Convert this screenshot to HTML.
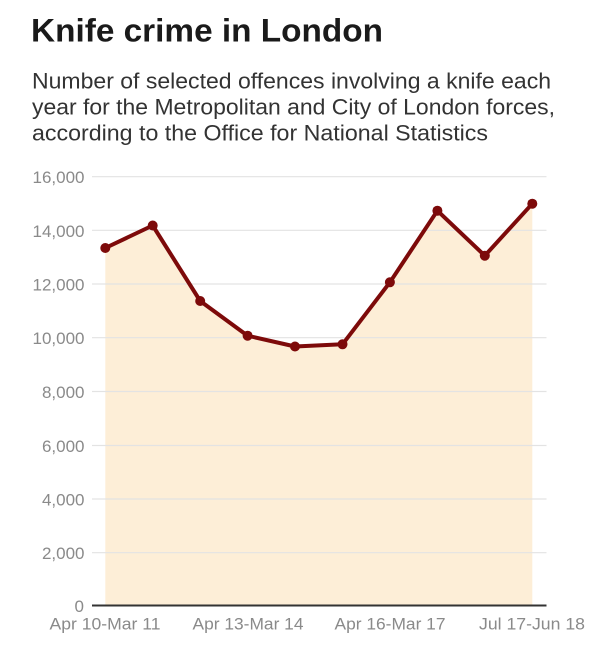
<!DOCTYPE html>
<html>
<head>
<meta charset="utf-8">
<style>
html,body{margin:0;padding:0;background:#fff;}
svg{display:block;}
text{font-family:"Liberation Sans",Arial,sans-serif;}
</style>
</head>
<body>
<svg width="616" height="652" viewBox="0 0 616 652" xmlns="http://www.w3.org/2000/svg">
  <rect width="616" height="652" fill="#fff"/>
  <text x="31" y="41.7" font-size="32" font-weight="bold" fill="#1a1a1a" textLength="352" lengthAdjust="spacingAndGlyphs">Knife crime in London</text>
  <text x="32" y="88.3" font-size="22" fill="#333" textLength="519" lengthAdjust="spacingAndGlyphs">Number of selected offences involving a knife each</text>
  <text x="32" y="114.3" font-size="22" fill="#333" textLength="523" lengthAdjust="spacingAndGlyphs">year for the Metropolitan and City of London forces,</text>
  <text x="32" y="140.3" font-size="22" fill="#333" textLength="456" lengthAdjust="spacingAndGlyphs">according to the Office for National Statistics</text>

  <!-- area fill -->
  <polygon fill="#fdeed7" points="105.3,605.5 105.3,248 152.7,225.5 200.2,301 247.6,335.7 295,346.5 342.5,344.3 389.9,282.3 437.4,210.7 484.8,255.7 532.3,203.7 532.3,605.5"/>

  <!-- gridlines -->
  <g stroke="#e3e3e3" stroke-width="1.2">
    <line x1="92" y1="176.7" x2="546.5" y2="176.7"/>
    <line x1="92" y1="230.3" x2="546.5" y2="230.3"/>
    <line x1="92" y1="284" x2="546.5" y2="284"/>
    <line x1="92" y1="337.7" x2="546.5" y2="337.7"/>
    <line x1="92" y1="391.5" x2="546.5" y2="391.5"/>
    <line x1="92" y1="445.5" x2="546.5" y2="445.5"/>
    <line x1="92" y1="499" x2="546.5" y2="499"/>
    <line x1="92" y1="552.7" x2="546.5" y2="552.7"/>
  </g>
  <line x1="92" y1="605.5" x2="546.5" y2="605.5" stroke="#333" stroke-width="2"/>

  <!-- y labels -->
  <g font-size="17" fill="#8a8a8a" text-anchor="end">
    <text x="84.5" y="183.2">16,000</text>
    <text x="84.5" y="236.8">14,000</text>
    <text x="84.5" y="290.5">12,000</text>
    <text x="84.5" y="344.2">10,000</text>
    <text x="84.5" y="398">8,000</text>
    <text x="84.5" y="452">6,000</text>
    <text x="84.5" y="505.5">4,000</text>
    <text x="84.5" y="559.2">2,000</text>
    <text x="84" y="611.8">0</text>
  </g>

  <!-- x labels -->
  <g font-size="17" fill="#8a8a8a" text-anchor="middle">
    <text x="105" y="629.3" textLength="111" lengthAdjust="spacingAndGlyphs">Apr 10-Mar 11</text>
    <text x="248" y="629.3" textLength="111" lengthAdjust="spacingAndGlyphs">Apr 13-Mar 14</text>
    <text x="390" y="629.3" textLength="111" lengthAdjust="spacingAndGlyphs">Apr 16-Mar 17</text>
    <text x="532" y="629.3" textLength="106" lengthAdjust="spacingAndGlyphs">Jul 17-Jun 18</text>
  </g>

  <!-- line -->
  <polyline fill="none" stroke="#7d0a0a" stroke-width="4" stroke-linejoin="round" stroke-linecap="round" points="105.3,248 152.7,225.5 200.2,301 247.6,335.7 295,346.5 342.5,344.3 389.9,282.3 437.4,210.7 484.8,255.7 532.3,203.7"/>
  <g fill="#7d0a0a">
    <circle cx="105.3" cy="248" r="5"/>
    <circle cx="152.7" cy="225.5" r="5"/>
    <circle cx="200.2" cy="301" r="5"/>
    <circle cx="247.6" cy="335.7" r="5"/>
    <circle cx="295" cy="346.5" r="5"/>
    <circle cx="342.5" cy="344.3" r="5"/>
    <circle cx="389.9" cy="282.3" r="5"/>
    <circle cx="437.4" cy="210.7" r="5"/>
    <circle cx="484.8" cy="255.7" r="5"/>
    <circle cx="532.3" cy="203.7" r="5"/>
  </g>
</svg>
</body>
</html>
